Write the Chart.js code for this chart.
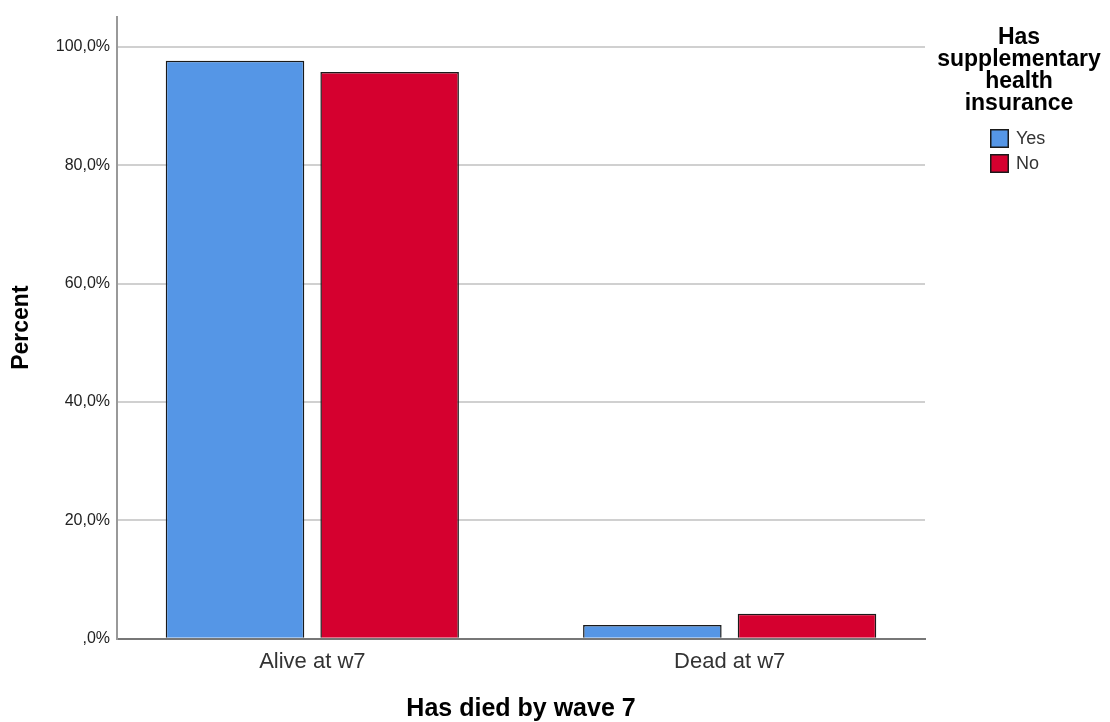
<!DOCTYPE html>
<html>
<head>
<meta charset="utf-8">
<title>Has died by wave 7</title>
<script src="https://cdn.jsdelivr.net/npm/chart.js@4/dist/chart.umd.min.js"></script>
<style>
	html, body { margin: 0; padding: 0; background: #fff; }
	#wrap { width: 1110px; height: 722px; }
</style>
</head>
<body>
<div id="wrap"><canvas id="chart" width="1110" height="722"></canvas></div>
<script>
var categories = ['Alive at w7', 'Dead at w7'];
var seriesNames = ['Yes', 'No'];
var yesValues = [97.7, 2.3];
var noValues = [95.8, 4.2];
var yTicks = [0, 20, 40, 60, 80, 100];
var legendTitle = ['Has', 'supplementary', 'health', 'insurance'];
var xTitle = 'Has died by wave 7';
var yTitle = 'Percent';

var seriesColors = ['#5596e6', '#d5002f'];
var FONT = '"Liberation Sans", Arial, sans-serif';

// bar chart on a linear index axis, one point per category
function toPoints(values) {
	return values.map(function (v, i) {
		return { x: i, y: v };
	});
}

// 20 -> "20,0%", 0 -> ",0%"
function percentLabel(v) {
	var s = v.toFixed(1).replace('.', ',');
	if (s.indexOf('0,') === 0) {
		s = s.slice(1);
	}
	return s + '%';
}

var legendBox = {
	id: 'legendBox',
	afterDraw: function (chart) {
		var c = chart.ctx;
		var cx = 1019;
		c.save();
		c.fillStyle = '#000';
		c.font = 'bold 23px ' + FONT;
		c.textAlign = 'center';
		c.textBaseline = 'alphabetic';
		legendTitle.forEach(function (line, i) {
			c.fillText(line, cx, 44 + i * 22);
		});
		chart.data.datasets.forEach(function (ds, i) {
			var y = 129 + i * 25;
			c.fillStyle = ds.backgroundColor;
			c.fillRect(990, y, 19, 19);
			c.strokeStyle = '#1a1a1a';
			c.lineWidth = 1.5;
			c.strokeRect(990.75, y + 0.75, 17.5, 17.5);
			c.fillStyle = '#333';
			c.font = '18px ' + FONT;
			c.textAlign = 'left';
			c.textBaseline = 'middle';
			c.fillText(ds.label, 1016, y + 10);
		});
		c.restore();
	}
};

var datasets = [yesValues, noValues].map(function (values, i) {
	return {
		label: seriesNames[i],
		data: toPoints(values),
		backgroundColor: seriesColors[i],
		borderColor: '#1a1a1a',
		borderWidth: 1.5,
		categoryPercentage: 0.741,
		barPercentage: 0.896
	};
});

var ctx = document.getElementById('chart').getContext('2d');
var chart = new Chart(ctx, {
	type: 'bar',
	data: { datasets: datasets },
	options: {
		responsive: false,
		animation: false,
		layout: {
			padding: { top: 12, right: 185, left: 0, bottom: 0 }
		},
		plugins: {
			legend: { display: false },
			tooltip: { enabled: false }
		},
		scales: {
			x: {
				type: 'linear',
				min: -0.468,
				max: 1.468,
				offset: false,
				grid: { display: false, drawTicks: false, offset: false },
				border: { color: '#777', width: 2 },
				ticks: {
					stepSize: 1,
					includeBounds: false,
					padding: 10,
					color: '#333',
					font: { family: FONT, size: 22 },
					callback: function (v) {
						return categories[v] || '';
					}
				},
				title: {
					display: true,
					text: xTitle,
					color: '#000',
					padding: { top: 0, bottom: 0 },
					font: { family: FONT, size: 25, weight: 'bold', lineHeight: 1 }
				},
				afterFit: function (scale) {
					scale.height = 83.3;
				}
			},
			y: {
				min: 0,
				max: 105.15,
				grid: {
					drawTicks: false,
					lineWidth: 2,
					color: function (c) {
						return c.tick && c.tick.value === 0 ? 'rgba(0,0,0,0)' : '#d0d0d0';
					}
				},
				border: { color: '#999', width: 2 },
				afterBuildTicks: function (scale) {
					scale.ticks = yTicks.map(function (v) {
						return { value: v };
					});
				},
				ticks: {
					padding: 7,
					color: '#222',
					font: { family: FONT, size: 16 },
					callback: function (v) {
						return percentLabel(v);
					}
				},
				title: {
					display: true,
					text: yTitle,
					color: '#000',
					padding: { top: 10, bottom: 0 },
					font: { family: FONT, size: 23, weight: 'bold', lineHeight: 1 }
				},
				afterFit: function (scale) {
					scale.width = 117;
				}
			}
		}
	},
	plugins: [legendBox]
});
</script>
</body>
</html>
